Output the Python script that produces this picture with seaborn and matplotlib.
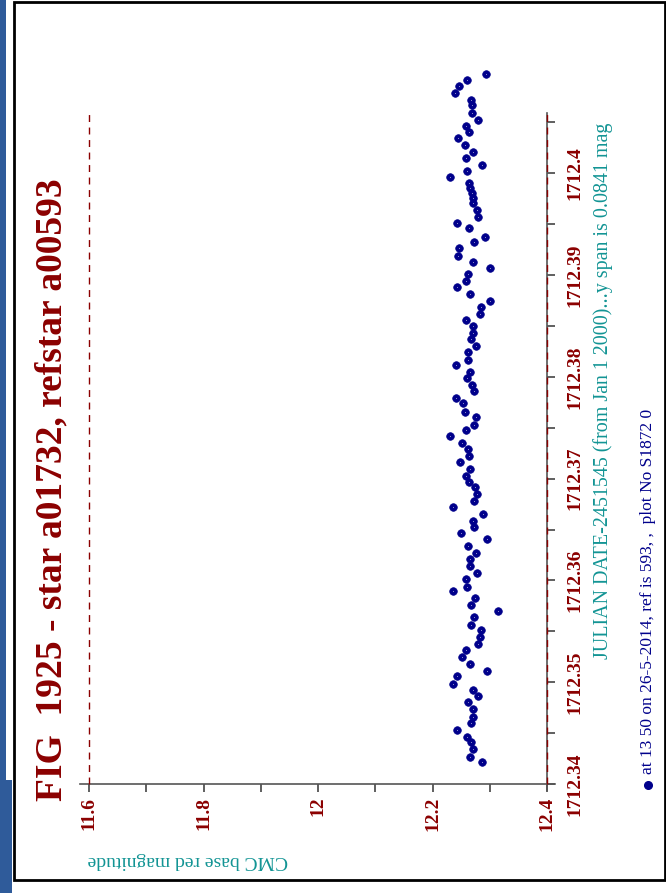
import matplotlib
matplotlib.use("Agg")
import matplotlib.pyplot as plt
import seaborn as sns
import pandas as pd
from matplotlib.lines import Line2D
from matplotlib.patches import Rectangle
from matplotlib.ticker import FixedLocator, MultipleLocator, FuncFormatter

# Observation times (JD - 2451545) and CMC base red magnitudes
julian_date = [
    1712.34213, 1712.34268, 1712.34344, 1712.34410, 1712.34465, 1712.34530, 1712.34596, 1712.34661, 1712.34737, 1712.34803,
    1712.34867, 1712.34923, 1712.34982, 1712.35064, 1712.35110, 1712.35179, 1712.35245, 1712.35316, 1712.35372, 1712.35441,
    1712.35513, 1712.35562, 1712.35638, 1712.35699, 1712.35758, 1712.35824, 1712.35896, 1712.35938, 1712.36011, 1712.36076,
    1712.36141, 1712.36207, 1712.36272, 1712.36338, 1712.36404, 1712.36463, 1712.36522, 1712.36586, 1712.36652, 1712.36718,
    1712.36783, 1712.36849, 1712.36915, 1712.36970, 1712.37029, 1712.37091, 1712.37160, 1712.37225, 1712.37288, 1712.37353,
    1712.37419, 1712.37477, 1712.37527, 1712.37608, 1712.37657, 1712.37740, 1712.37795, 1712.37861, 1712.37919, 1712.37985,
    1712.38050, 1712.38116, 1712.38165, 1712.38247, 1712.38306, 1712.38371, 1712.38427, 1712.38502, 1712.38558, 1712.38617,
    1712.38689, 1712.38748, 1712.38810, 1712.38879, 1712.38944, 1712.39007, 1712.39066, 1712.39131, 1712.39190, 1712.39262,
    1712.39327, 1712.39376, 1712.39459, 1712.39508, 1712.39573, 1712.39639, 1712.39704, 1712.39753, 1712.39803, 1712.39852,
    1712.39901, 1712.39966, 1712.40025, 1712.40081, 1712.40146, 1712.40211, 1712.40277, 1712.40343, 1712.40408, 1712.40467,
    1712.40523, 1712.40594, 1712.40670, 1712.40719, 1712.40785, 1712.40857, 1712.40916, 1712.40974,
]
magnitude = [
    12.287, 12.266, 12.270, 12.267, 12.260, 12.242, 12.267, 12.271, 12.270, 12.262,
    12.279, 12.271, 12.235, 12.242, 12.296, 12.266, 12.252, 12.258, 12.279, 12.283,
    12.285, 12.267, 12.273, 12.3141, 12.267, 12.274, 12.236, 12.260, 12.258, 12.277,
    12.266, 12.266, 12.276, 12.262, 12.295, 12.250, 12.273, 12.271, 12.289, 12.235,
    12.273, 12.277, 12.274, 12.264, 12.258, 12.266, 12.248, 12.264, 12.262, 12.252,
    12.2300, 12.258, 12.273, 12.276, 12.257, 12.254, 12.241, 12.273, 12.269, 12.260,
    12.266, 12.241, 12.262, 12.262, 12.276, 12.267, 12.270, 12.270, 12.258, 12.283,
    12.285, 12.300, 12.266, 12.242, 12.258, 12.262, 12.300, 12.271, 12.244, 12.246,
    12.273, 12.291, 12.263, 12.242, 12.280, 12.277, 12.271, 12.270, 12.269, 12.266,
    12.264, 12.231, 12.260, 12.287, 12.258, 12.271, 12.256, 12.244, 12.264, 12.258,
    12.279, 12.269, 12.269, 12.267, 12.239, 12.246, 12.261, 12.293,
]

mag_ticks = [11.6, 11.8, 12.0, 12.2, 12.4]
date_ticks = [1712.34, 1712.35, 1712.36, 1712.37, 1712.38, 1712.39, 1712.40]
limit_lines = [11.6, 12.4]

title_text = "FIG  1925 - star a01732, refstar a00593"
mag_label = "CMC base red magnitude"
date_label = "JULIAN DATE-2451545 (from Jan 1 2000)...y span is 0.0841 mag"
footer_text = "at 13 50 on 26-5-2014, ref is 593, ,  plot No S1872 0"

DARKRED = "#8B0000"
TEAL = "#129494"
NAVY = "#00008B"
W, H = 666, 893

sns.set_style("white")
plt.rcParams["font.family"] = ["Liberation Serif", "DejaVu Serif"]
plt.rcParams["font.weight"] = "bold"

df = pd.DataFrame({"julian_date": julian_date, "magnitude": magnitude})

fig = plt.figure(figsize=(W / 100, H / 100), dpi=100)
fig.patch.set_facecolor("white")

# page decoration: blue edge strip and black frame
fig.add_artist(Rectangle((0, 0), 6 / W, 1, transform=fig.transFigure,
                         facecolor="#2F5B9A", edgecolor="none", zorder=0))
fig.add_artist(Rectangle((0, 0), 12 / W, 113 / H, transform=fig.transFigure,
                         facecolor="#2F5B9A", edgecolor="none", zorder=0))
fig.add_artist(Rectangle((13.5 / W, (H - 879.5) / H), (665 - 13.5) / W, (879.5 - 1.5) / H,
                         transform=fig.transFigure, fill=False, edgecolor="black",
                         linewidth=2.0, zorder=1))

# magnitude runs left-to-right, time runs bottom-to-top
ax = fig.add_axes([80 / W, (H - 790) / H, 475 / W, 677 / H])
ax.set_facecolor("none")
ax.set_xlim(11.6 - 9 / 572.5, 12.4 + 8 / 572.5)
ax.set_ylim(1712.34 - 6 / 10180, 1712.34 + 671 / 10180)

for v in limit_lines:
    ax.axvline(v, ymin=6 / 677, ymax=1, color=DARKRED, linestyle=(0, (5, 4)),
               linewidth=1.0, zorder=3)

sns.scatterplot(data=df, x="magnitude", y="julian_date", ax=ax, color=NAVY,
                edgecolor=NAVY, linewidth=0.5, s=30, clip_on=False, zorder=5,
                legend=False)
ax.scatter(df["magnitude"], df["julian_date"], s=0.5, c="#9090d0", linewidths=0,
           clip_on=False, zorder=6)

for side in ("top", "left"):
    ax.spines[side].set_visible(False)
ax.spines["bottom"].set_position(("data", 1712.34))
ax.spines["right"].set_position(("data", 12.4))
for side in ("bottom", "right"):
    ax.spines[side].set_color("#555555")
    ax.spines[side].set_linewidth(1.2)
    ax.spines[side].set_zorder(2)

fmt = FuncFormatter(lambda v, p: f"{v:g}")
ax.xaxis.set_major_locator(FixedLocator(mag_ticks))
ax.xaxis.set_minor_locator(MultipleLocator(0.1))
ax.xaxis.set_major_formatter(fmt)
ax.yaxis.tick_right()
ax.yaxis.set_major_locator(FixedLocator(date_ticks))
ax.yaxis.set_minor_locator(MultipleLocator(0.005))
ax.yaxis.set_major_formatter(fmt)

ax.tick_params(axis="x", which="both", direction="out", length=6, width=1.2,
               color="#444444", bottom=True, top=False, pad=3)
ax.tick_params(axis="x", which="major", labelsize=14, labelcolor=DARKRED,
               labelrotation=90)
ax.tick_params(axis="y", which="both", direction="out", length=6, width=1.2,
               color="#444444", right=True, left=False, pad=8)
ax.tick_params(axis="y", which="major", labelsize=14, labelcolor=DARKRED,
               labelrotation=90)
for lab in ax.get_yticklabels():
    lab.set_verticalalignment("center")
ax.set_xlabel("")
ax.set_ylabel("")

fig.text(52 / W, 1 - 490 / H, title_text, rotation=90, ha="center", va="center",
         fontsize=27, fontweight="bold", color=DARKRED)
fig.text(188 / W, 1 - 860 / H, mag_label, rotation=180, ha="center", va="center",
         fontsize=14, fontweight="normal", color=TEAL)
fig.text(603 / W, 1 - 391 / H, date_label, rotation=90, ha="center", va="center",
         fontsize=14.4, fontweight="normal", color=TEAL)
fig.add_artist(Line2D([648 / W], [1 - 785 / H], transform=fig.transFigure,
                      marker="o", markersize=5.5, color=NAVY, linestyle="none"))
fig.text(648 / W, 1 - 774 / H, footer_text, rotation=90, ha="center", va="bottom",
         fontsize=12.5, fontweight="normal", color=NAVY)

fig.savefig("out.png", dpi=100, facecolor="white")
